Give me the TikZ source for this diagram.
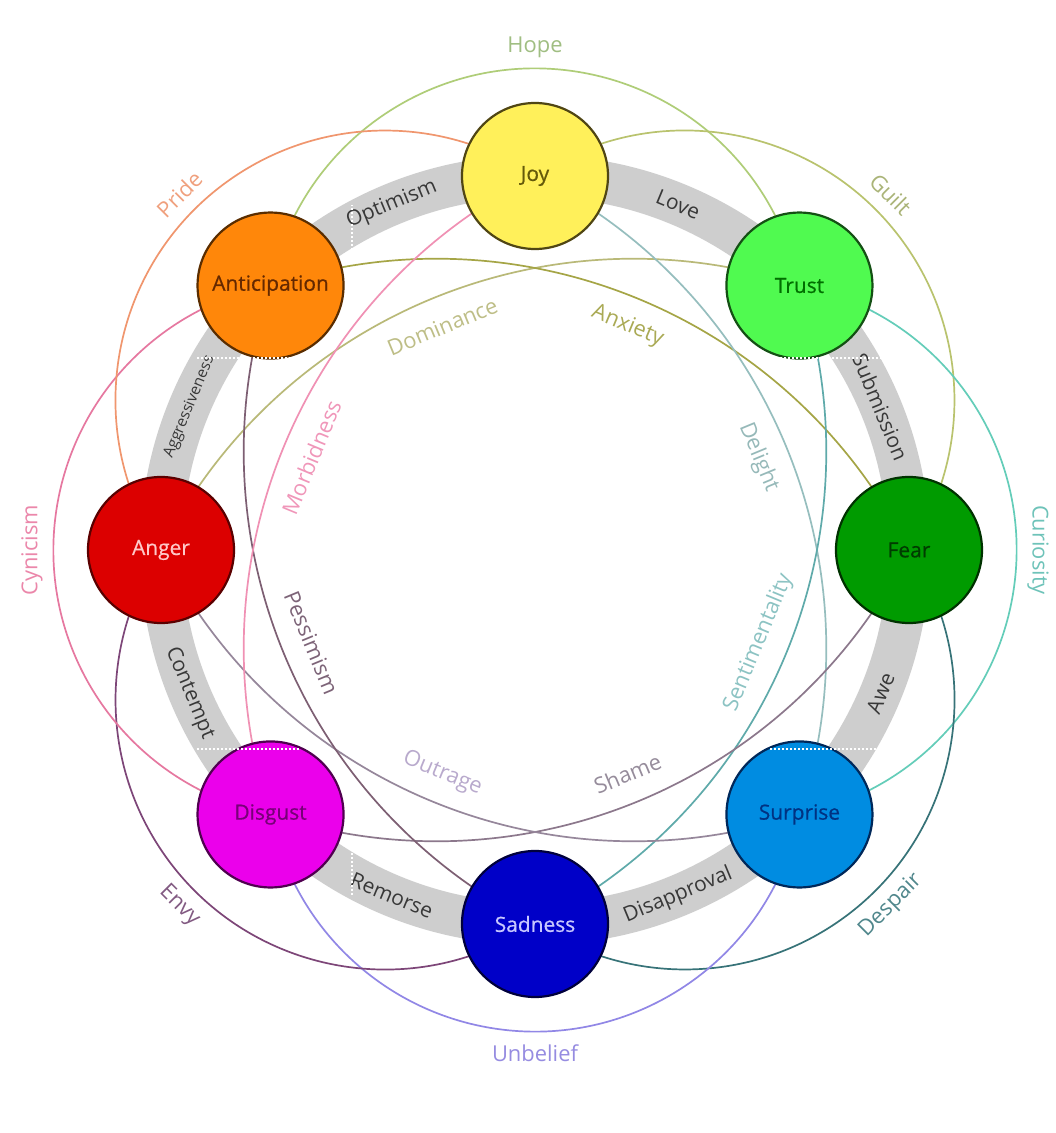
\documentclass[tikz,border=0pt]{standalone}
\usepackage{fontspec}
\setmainfont{Open Sans}
\pgfdeclarelayer{band}
\pgfdeclarelayer{bg}
\pgfsetlayers{band,bg,main}
\definecolor{bandgray}{RGB}{206,206,206}
\definecolor{joyF}{RGB}{255,240,90}\definecolor{joyD}{RGB}{80,70,20}\definecolor{joyT}{RGB}{100,90,10}
\definecolor{trustF}{RGB}{80,250,80}\definecolor{trustD}{RGB}{20,80,20}\definecolor{trustT}{RGB}{0,110,0}
\definecolor{fearF}{RGB}{0,155,0}\definecolor{fearD}{RGB}{0,50,0}\definecolor{fearT}{RGB}{0,60,0}
\definecolor{surpriseF}{RGB}{0,140,225}\definecolor{surpriseD}{RGB}{0,40,90}\definecolor{surpriseT}{RGB}{0,50,130}
\definecolor{sadnessF}{RGB}{0,0,200}\definecolor{sadnessD}{RGB}{0,0,60}\definecolor{sadnessT}{RGB}{200,200,255}
\definecolor{disgustF}{RGB}{235,0,235}\definecolor{disgustD}{RGB}{80,0,80}\definecolor{disgustT}{RGB}{120,0,120}
\definecolor{angerF}{RGB}{220,0,0}\definecolor{angerD}{RGB}{90,0,0}\definecolor{angerT}{RGB}{255,200,200}
\definecolor{anticipationF}{RGB}{255,135,10}\definecolor{anticipationD}{RGB}{90,45,0}\definecolor{anticipationT}{RGB}{100,40,0}
\definecolor{hopeC}{RGB}{175,205,120}\definecolor{hopeT}{RGB}{160,190,130}
\definecolor{guiltC}{RGB}{185,195,110}\definecolor{guiltT}{RGB}{170,180,120}
\definecolor{curiosityC}{RGB}{100,205,185}\definecolor{curiosityT}{RGB}{110,195,185}
\definecolor{despairC}{RGB}{55,115,120}\definecolor{despairT}{RGB}{80,135,140}
\definecolor{unbeliefC}{RGB}{145,135,230}\definecolor{unbeliefT}{RGB}{150,140,225}
\definecolor{envyC}{RGB}{125,70,120}\definecolor{envyT}{RGB}{130,90,130}
\definecolor{cynicismC}{RGB}{230,120,160}\definecolor{cynicismT}{RGB}{235,135,170}
\definecolor{prideC}{RGB}{240,150,110}\definecolor{prideT}{RGB}{240,160,125}
\definecolor{dominanceC}{RGB}{185,185,120}\definecolor{dominanceT}{RGB}{190,190,135}
\definecolor{anxietyC}{RGB}{165,165,70}\definecolor{anxietyT}{RGB}{170,170,85}
\definecolor{delightC}{RGB}{150,190,190}\definecolor{delightT}{RGB}{150,185,185}
\definecolor{sentimentalityC}{RGB}{95,170,170}\definecolor{sentimentalityT}{RGB}{140,195,195}
\definecolor{shameC}{RGB}{140,120,140}\definecolor{shameT}{RGB}{150,140,155}
\definecolor{outrageC}{RGB}{150,135,155}\definecolor{outrageT}{RGB}{185,170,205}
\definecolor{pessimismC}{RGB}{125,95,115}\definecolor{pessimismT}{RGB}{125,100,120}
\definecolor{morbidnessC}{RGB}{240,145,180}\definecolor{morbidnessT}{RGB}{240,150,185}
\begin{document}
\begin{tikzpicture}[x=1bp,y=1bp,
  emo/.style={circle, minimum size=146bp, inner sep=0pt, line width=2.2bp,
    font=\fontsize{21}{25}\selectfont\addfontfeatures{FakeBold=0.6}},
  bandlbl/.style={font=\fontsize{21}{25}\selectfont, text=black!78, inner sep=0pt},
  arcline/.style={line width=1.7bp},
  dlbl/.style={font=\fontsize{22}{26}\selectfont, inner sep=0pt},
  artifact/.style={white, line width=1.2bp, dash pattern=on 2bp off 2bp}
]
\useasboundingbox (-535,-583) rectangle (521,550);
% emotion nodes
\node[emo, fill=joyF, draw=joyD, text=joyT] (joy) at (90:374) {Joy};
\node[emo, fill=trustF, draw=trustD, text=trustT] (trust) at (45:374) {Trust};
\node[emo, fill=fearF, draw=fearD, text=fearT] (fear) at (0:374) {Fear};
\node[emo, fill=surpriseF, draw=surpriseD, text=surpriseT] (surprise) at (-45:374) {Surprise};
\node[emo, fill=sadnessF, draw=sadnessD, text=sadnessT] (sadness) at (-90:374) {Sadness};
\node[emo, fill=disgustF, draw=disgustD, text=disgustT] (disgust) at (-135:374) {Disgust};
\node[emo, fill=angerF, draw=angerD, text=angerT] (anger) at (180:374) {Anger};
\node[emo, fill=anticipationF, draw=anticipationD, text=anticipationT] (anticipation) at (135:374) {Anticipation};

\begin{pgfonlayer}{band}
  \fill[white] (-535,-583) rectangle (521,550);
  \draw[bandgray, line width=42bp] (joy.center) arc[start angle=90, end angle=-270, radius=374];
  \node[bandlbl, rotate=22.5] (optimism) at (112.5:374) {Optimism};
  \node[bandlbl, rotate=-22.5] (love) at (67.5:374) {Love};
  \node[bandlbl, rotate=-67.5] (submission) at (22.5:374) {Submission};
  \node[bandlbl, rotate=67.5] (awe) at (-22.5:374) {Awe};
  \node[bandlbl, rotate=22.5] (disapproval) at (-67.5:374) {Disapproval};
  \node[bandlbl, rotate=-22.5] (remorse) at (-112.5:374) {Remorse};
  \node[bandlbl, rotate=-67.5] (contempt) at (-157.5:374) {Contempt};
  \node[bandlbl, rotate=67.5, font=\fontsize{15.5}{18}\selectfont] (aggressiveness) at (157.5:374) {Aggressiveness};
\end{pgfonlayer}

\begin{pgfonlayer}{bg}
  % secondary dyads (outer arcs)
  \draw[arcline, hopeC] (anticipation.center) arc[start angle=168.78, end angle=11.22, radius=269.6];
  \draw[arcline, guiltC] (joy.center) arc[start angle=123.78, end angle=-33.78, radius=269.6];
  \draw[arcline, curiosityC] (trust.center) arc[start angle=78.78, end angle=-78.78, radius=269.6];
  \draw[arcline, despairC] (fear.center) arc[start angle=33.78, end angle=-123.78, radius=269.6];
  \draw[arcline, unbeliefC] (surprise.center) arc[start angle=-11.22, end angle=-168.78, radius=269.6];
  \draw[arcline, envyC] (sadness.center) arc[start angle=-56.22, end angle=-213.78, radius=269.6];
  \draw[arcline, cynicismC] (disgust.center) arc[start angle=258.78, end angle=101.22, radius=269.6];
  \draw[arcline, prideC] (anger.center) arc[start angle=213.78, end angle=56.22, radius=269.6];
  % tertiary dyads (inner arcs)
  \draw[arcline, dominanceC] (anger.center) arc[start angle=153.31, end angle=71.69, radius=528.7];
  \draw[arcline, anxietyC] (anticipation.center) arc[start angle=108.31, end angle=26.69, radius=528.7];
  \draw[arcline, delightC] (joy.center) arc[start angle=63.31, end angle=-18.31, radius=528.7];
  \draw[arcline, sentimentalityC] (trust.center) arc[start angle=18.31, end angle=-63.31, radius=528.7];
  \draw[arcline, shameC] (fear.center) arc[start angle=-26.69, end angle=-108.31, radius=528.7];
  \draw[arcline, outrageC] (surprise.center) arc[start angle=-71.69, end angle=-153.31, radius=528.7];
  \draw[arcline, pessimismC] (sadness.center) arc[start angle=-116.69, end angle=-198.31, radius=528.7];
  \draw[arcline, morbidnessC] (disgust.center) arc[start angle=198.31, end angle=116.69, radius=528.7];
\end{pgfonlayer}

% dyad labels
\node[dlbl, text=hopeT] (hope) at (90:503) {Hope};
\node[dlbl, text=guiltT, rotate=-45] (guilt) at (45:503) {Guilt};
\node[dlbl, text=curiosityT, rotate=-90] (curiosity) at (0:503) {Curiosity};
\node[dlbl, text=despairT, rotate=45] (despair) at (-45:503) {Despair};
\node[dlbl, text=unbeliefT] (unbelief) at (-90:503) {Unbelief};
\node[dlbl, text=envyT, rotate=-45] (envy) at (-135:503) {Envy};
\node[dlbl, text=cynicismT, rotate=90] (cynicism) at (180:503) {Cynicism};
\node[dlbl, text=prideT, rotate=45] (pride) at (135:503) {Pride};

\node[dlbl, text=dominanceT, rotate=22.5] (dominance) at (112.5:242) {Dominance};
\node[dlbl, text=anxietyT, rotate=-22.5] (anxiety) at (67.5:242) {Anxiety};
\node[dlbl, text=delightT, rotate=-67.5] (delight) at (22.5:242) {Delight};
\node[dlbl, text=sentimentalityT, rotate=67.5] (sentimentality) at (-22.5:242) {Sentimentality};
\node[dlbl, text=shameT, rotate=22.5] (shame) at (-67.5:242) {Shame};
\node[dlbl, text=outrageT, rotate=-22.5] (outrage) at (-112.5:242) {Outrage};
\node[dlbl, text=pessimismT, rotate=-67.5] (pessimism) at (-157.5:242) {Pessimism};
\node[dlbl, text=morbidnessT, rotate=67.5] (morbidness) at (157.5:242) {Morbidness};

% faint white dotted marks over the band
\draw[artifact] (-338,192) -- (-235,192);
\draw[artifact] (245,192) -- (348,192);
\draw[artifact] (-338,-199) -- (-235,-199);
\draw[artifact] (235,-199) -- (345,-199);
\draw[artifact] (-183,300) -- (-183,345);
\draw[artifact] (-183,-303) -- (-183,-347);
\end{tikzpicture}
\end{document}
